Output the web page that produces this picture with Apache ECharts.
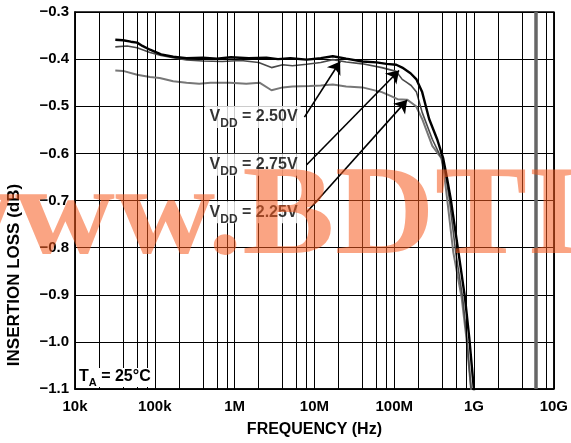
<!DOCTYPE html>
<html>
<head>
<meta charset="utf-8">
<script src="https://cdn.jsdelivr.net/npm/echarts@6/dist/echarts.min.js"></script>
<style>
  html, body { margin: 0; padding: 0; background: #fff; }
  #chart { width: 571px; height: 443px; }
</style>
</head>
<body>
<div id="chart"></div>
<script>
// tick labels, one per decade starting at 10k
const freqLabels = ['10k', '100k', '1M', '10M', '100M', '1G', '10G']
// extra vertical grid lines (2, 4, 6, 8 of each decade)
const minorGrid = [2e4, 4e4, 6e4, 8e4, 2e5, 4e5, 6e5, 8e5, 2e6, 4e6, 6e6, 8e6,
  2e7, 4e7, 6e7, 8e7, 2e8, 4e8, 6e8, 8e8, 2e9, 4e9, 8e9]
const thickGrid = [6e9]

// [frequency Hz, insertion loss dB]
const vdd250 = [[3.2e4, -0.359], [4e4, -0.36], [5e4, -0.363], [6e4, -0.365], [7e4, -0.372],
  [8.7e4, -0.38], [1.2e5, -0.39], [1.7e5, -0.395], [2.5e5, -0.398], [4e5, -0.397],
  [6e5, -0.399], [9e5, -0.396], [1.5e6, -0.398], [2.5e6, -0.397], [3.5e6, -0.4],
  [5e6, -0.398], [8e6, -0.401], [1.2e7, -0.398], [1.7e7, -0.394], [2.5e7, -0.399],
  [4e7, -0.405], [6e7, -0.407], [8e7, -0.41], [1.06e8, -0.412], [1.26e8, -0.418],
  [1.6e8, -0.43], [1.9e8, -0.443], [2.24e8, -0.47], [2.74e8, -0.527], [3.45e8, -0.57],
  [4.1e8, -0.61], [4.6e8, -0.654], [5.1e8, -0.696], [6.4e8, -0.811], [7.7e8, -0.906],
  [8.7e8, -0.99], [1.02e9, -1.12]]
const vdd275 = [[3.2e4, -0.374], [4.5e4, -0.372], [6e4, -0.376], [8.7e4, -0.386],
  [1.2e5, -0.392], [1.7e5, -0.397], [2.5e5, -0.402], [4e5, -0.404], [7e5, -0.405],
  [1.2e6, -0.403], [2e6, -0.407], [2.9e6, -0.418], [4e6, -0.412], [5.3e6, -0.414],
  [8e6, -0.411], [1.2e7, -0.407], [1.7e7, -0.401], [2.5e7, -0.406], [4e7, -0.41],
  [7e7, -0.418], [1.06e8, -0.426], [1.26e8, -0.443], [1.45e8, -0.45], [1.63e8, -0.456],
  [1.9e8, -0.47], [2.24e8, -0.513], [3e8, -0.57], [3.9e8, -0.61], [4.5e8, -0.654],
  [4.9e8, -0.696], [5.9e8, -0.81], [7.2e8, -0.906], [8.1e8, -0.99], [9.4e8, -1.12]]
const vdd225 = [[3.2e4, -0.424], [4e4, -0.425], [6e4, -0.433], [8.7e4, -0.438],
  [1.15e5, -0.44], [1.7e5, -0.447], [2.5e5, -0.45], [3.6e5, -0.452], [5e5, -0.45],
  [8.7e5, -0.45], [1.4e6, -0.452], [2.05e6, -0.45], [2.9e6, -0.466], [4e6, -0.46],
  [5.3e6, -0.458], [8.7e6, -0.457], [1.2e7, -0.456], [1.7e7, -0.454], [2.5e7, -0.458],
  [4e7, -0.46], [7e7, -0.47], [9e7, -0.478], [1.1e8, -0.485], [1.45e8, -0.486],
  [1.88e8, -0.5], [2.24e8, -0.527], [3e8, -0.584], [3.9e8, -0.61], [4.2e8, -0.64],
  [4.6e8, -0.696], [5.5e8, -0.81], [7e8, -0.906], [8e8, -0.99], [9.4e8, -1.12]]

// callouts: label anchor, arrow start, arrow tip
const callouts = [
  { text: '2.50V', at: [4.2e5, -0.523], from: [7.5e6, -0.523], to: [2.1e7, -0.405] },
  { text: '2.75V', at: [4.2e5, -0.624], from: [8e6, -0.624], to: [1.15e8, -0.424] },
  { text: '2.25V', at: [4.2e5, -0.725], from: [8e6, -0.725], to: [1.45e8, -0.487] }
]

const font = '"Liberation Sans", Arial, sans-serif'
const chart = echarts.init(document.getElementById('chart'))

function lineSeries(name, data, color, width) {
  return {
    name: name,
    type: 'line',
    data: data,
    symbol: 'none',
    z: 3,
    lineStyle: { color: color, width: width },
    animation: false
  }
}

const option = {
  animation: false,
  grid: { left: 75, right: 16, top: 12, bottom: 51, show: true, borderColor: '#000', borderWidth: 1.5 },
  xAxis: {
    type: 'log',
    logBase: 10,
    min: 1e4,
    max: 1e10,
    name: 'FREQUENCY (Hz)',
    nameLocation: 'middle',
    nameGap: 33,
    nameTextStyle: { fontFamily: font, fontWeight: 'bold', fontSize: 16, color: '#000' },
    axisLine: { lineStyle: { color: '#000', width: 1.5 } },
    axisTick: { show: false },
    axisLabel: {
      fontFamily: font, fontWeight: 'bold', fontSize: 15, color: '#000', margin: 10,
      formatter: v => freqLabels[Math.round(Math.log10(v)) - 4]
    },
    splitLine: { show: true, lineStyle: { color: '#000', width: 1 } }
  },
  yAxis: {
    type: 'value',
    min: -1.1,
    max: -0.3,
    interval: 0.1,
    axisLine: { lineStyle: { color: '#000', width: 1.5 } },
    axisTick: { show: false },
    axisLabel: {
      fontFamily: font, fontWeight: 'bold', fontSize: 15, color: '#000', margin: 6,
      formatter: v => '\u2212' + Math.abs(v).toFixed(1)
    },
    splitLine: { show: true, lineStyle: { color: '#000', width: 1 } }
  },
  series: [
    {
      type: 'line',
      data: [],
      z: 1,
      silent: true,
      markLine: {
        silent: true,
        symbol: ['none', 'none'],
        label: { show: false },
        animation: false,
        data: minorGrid.map(f => ({ xAxis: f, lineStyle: { color: '#000', width: 1, type: 'solid' } }))
          .concat(thickGrid.map(f => ({ xAxis: f, lineStyle: { color: '#666', width: 3.5, type: 'solid' } })))
      }
    },
    lineSeries('VDD = 2.25V', vdd225, '#777', 2),
    lineSeries('VDD = 2.75V', vdd275, '#4a4a4a', 1.6),
    lineSeries('VDD = 2.50V', vdd250, '#000', 2.4),
    {
      type: 'line',
      data: [],
      z: 4,
      silent: true,
      markLine: {
        silent: true,
        symbol: ['none', 'arrow'],
        symbolSize: 12,
        label: { show: false },
        animation: false,
        itemStyle: { color: '#000' },
        lineStyle: { color: '#000', width: 1.6, type: 'solid' },
        data: callouts.map(c => [{ coord: c.from }, { coord: c.to }])
      }
    },
    {
      type: 'scatter',
      z: 5,
      silent: true,
      symbolSize: 0,
      data: callouts.map(c => ({ value: c.at, name: c.text })),
      label: {
        show: true,
        position: 'right',
        distance: 0,
        backgroundColor: '#fff',
        padding: [3, 3, 1, 5],
        formatter: p => '{v|V}{s|DD}{v| = ' + p.name + '}',
        rich: {
          v: { fontFamily: font, fontWeight: 'bold', fontSize: 16, color: '#000', lineHeight: 18, verticalAlign: 'top' },
          s: { fontFamily: font, fontWeight: 'bold', fontSize: 12, color: '#000', lineHeight: 12, padding: [9, 0, 0, 0], verticalAlign: 'top' }
        }
      }
    }
  ],
  graphic: [
    {
      type: 'text',
      x: 14,
      y: 275,
      rotation: Math.PI / 2,
      style: {
        text: 'INSERTION LOSS (dB)',
        fontFamily: font,
        fontWeight: 'bold',
        fontSize: 17,
        fill: '#000',
        align: 'center',
        verticalAlign: 'middle'
      }
    },
    {
      type: 'text',
      left: 77,
      top: 368,
      z: 50,
      style: {
        text: '{v|T}{s|A}{v| = 25\u00b0C}',
        backgroundColor: '#fff',
        padding: [1, 3, 1, 2],
        rich: {
          v: { fontFamily: font, fontWeight: 'bold', fontSize: 16, fill: '#000', lineHeight: 17, verticalAlign: 'top' },
          s: { fontFamily: font, fontWeight: 'bold', fontSize: 11, fill: '#000', lineHeight: 11, padding: [8, 0, 0, 0], verticalAlign: 'top' }
        }
      }
    },
    {
      type: 'text',
      x: -85,
      y: 157,
      scaleX: 1.1,
      z: 100,
      silent: true,
      style: {
        text: 'www.BDTIC.com',
        fontFamily: '"Liberation Serif", "Times New Roman", serif',
        fontWeight: 'bold',
        fontSize: 126,
        fill: 'rgba(245,90,30,0.55)'
      }
    }
  ]
}

chart.setOption(option)
</script>
</body>
</html>
